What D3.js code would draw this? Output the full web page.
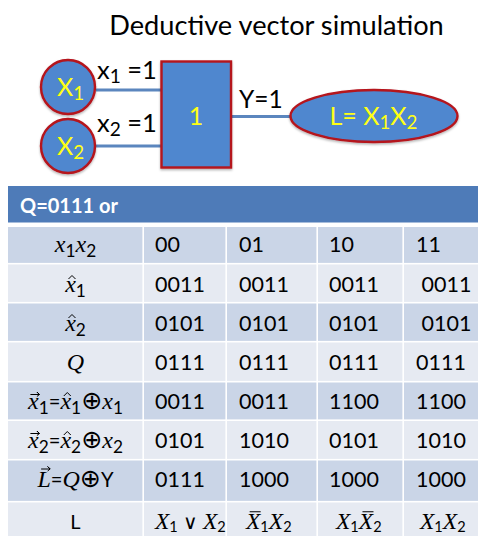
<!DOCTYPE html>
<html><head><meta charset="utf-8">
<script src="https://cdn.jsdelivr.net/npm/d3@7"></script>
<style>html,body{margin:0;padding:0;background:#fff}svg{display:block}</style></head>
<body><svg id="c" width="478" height="536"></svg>
<script>
const title = "Deductive vector simulation";
const header = "Q=0111 or";
const inputPatterns = ["00","01","10","11"];
const x1Hat = ["0011","0011","0011","0011"];
const x2Hat = ["0101","0101","0101","0101"];
const qRow = ["0111","0111","0111","0111"];
const x1Vec = ["0011","0011","1100","1100"];
const x2Vec = ["0101","1010","0101","1010"];
const lVec = ["0111","1000","1000","1000"];
const rowValues = [inputPatterns,x1Hat,x2Hat,qRow,x1Vec,x2Vec,lVec];
const m=(t,o={})=>({t,it:true,...o}), s=(t,o={})=>({t,it:true,sub:true,...o}), u=(t,o={})=>({t,...o});
const rowLabels = [
 [m("x"),s("1"),m("x"),s("2")],
 [m("x",{acc:"hat"}),s("1")],
 [m("x",{acc:"hat"}),s("2")],
 [m("Q")],
 [m("x",{acc:"vec"}),s("1"),u("=",{thin:1}),m("x",{acc:"hat"}),s("1"),u("⊕",{op:1}),m("x"),s("1")],
 [m("x",{acc:"vec"}),s("2"),u("=",{thin:1}),m("x",{acc:"hat"}),s("2"),u("⊕",{op:1}),m("x"),s("2")],
 [m("L",{acc:"vec"}),u("=",{thin:1}),m("Q"),u("⊕",{op:1}),u("Y",{thin:1})],
 [u("L")]
];
const lastRow = [
 [m("X"),s("1"),u(" ∨ ",{thin:1}),m("X"),s("2")],
 [m("X",{acc:"bar"}),s("1"),m("X"),s("2")],
 [m("X"),s("1"),m("X",{acc:"bar"}),s("2")],
 [m("X"),s("1"),m("X"),s("2")]
];

const svg=d3.select("#c");
const defs=svg.append("defs");
const f=defs.append("filter").attr("id","sh").attr("x","-10%").attr("y","-10%").attr("width","125%").attr("height","125%");
f.append("feDropShadow").attr("dx",0).attr("dy",1.5).attr("stdDeviation",1.2).attr("flood-color","#000").attr("flood-opacity",.3);

const SANS="Lato, 'Open Sans', sans-serif", SERIF="'Liberation Serif', serif";
const YEL="#FFFF14", RED="#B5121B", BLUE="#4F87CF";

function plain(x,y,t,size,fill="#000",anchor="start",weight=400,g=svg){
  return g.append("text").attr("x",x).attr("y",y).attr("font-family",SANS).attr("font-size",size)
    .attr("fill",fill).attr("text-anchor",anchor).attr("font-weight",weight).text(t);
}
function rich(x,y,runs,opt){
  const {size,anchor="middle",fill="#000",subDy=5,subScale=.72,family=SERIF,opScale=1.05}=opt;
  const el=svg.append("text").attr("x",x).attr("y",y).attr("text-anchor",anchor).attr("fill",fill)
    .attr("font-family",family).attr("font-size",size).attr("xml:space","preserve");
  let shift=0, pos=0; const accents=[];
  runs.forEach(r=>{
    const ts=el.append("tspan").text(r.t);
    if(r.it&&!r.sub) ts.attr("font-style","italic");
    if(r.sub){ts.attr("font-family",opt.subFamily||SANS).attr("font-size",size*subScale).attr("font-style","normal");}
    if(!r.it&&!r.op) ts.attr("font-family",SANS);
    if(r.thin) ts.attr("font-size",size*.84);
    if(r.op) ts.attr("font-family","'DejaVu Sans'").attr("font-size",size*opScale);
    const want=r.sub?subDy:0;
    if(want!==shift){ts.attr("dy",want-shift);shift=want;}
    if(r.acc) accents.push({i:pos,acc:r.acc,t:r.t});
    pos+=r.t.length;
  });
  accents.forEach(a=>{
    const n=el.node(), st=n.getStartPositionOfChar(a.i), en=n.getEndPositionOfChar(a.i);
    const cx=(st.x+en.x)/2+1.5, top=y-size*.5-(a.t==="L"?3.5:0);
    const stroke=p=>svg.append("path").attr("d",d3.line()(p)).attr("fill","none").attr("stroke","#000").attr("stroke-width",1);
    if(a.acc==="hat") stroke([[cx-3.5,top-1],[cx,top-4.5],[cx+3.5,top-1]]);
    if(a.acc==="vec") stroke([[cx-4.5,top-2.5],[cx+4.5,top-2.5],[cx+2,top-5],[cx+4.5,top-2.5],[cx+2,top-.5]]);
    if(a.acc==="bar") stroke([[cx-5,top-5.5],[cx+6,top-5.5]]);
  });
  return el;
}

/* Title + diagram */
plain(276.5,35,title,27.2,"#000","middle");
const wires=[[96,90,161,90],[96,146,161,146],[231,116.5,290,116.5]];
svg.selectAll(".w").data(wires).join("line").attr("x1",d=>d[0]).attr("y1",d=>d[1]).attr("x2",d=>d[2]).attr("y2",d=>d[3])
  .attr("stroke","#5B86BE").attr("stroke-width",3);
const shape=sel=>sel.attr("fill",BLUE).attr("stroke",RED).attr("stroke-width",2.4).attr("filter","url(#sh)");
svg.selectAll(".n").data([[68,87],[68,146]]).join("circle").attr("cx",d=>d[0]).attr("cy",d=>d[1]).attr("r",27).call(shape);
svg.append("rect").attr("x",161.5).attr("y",61.5).attr("width",69.5).attr("height",106).call(shape);
svg.append("ellipse").attr("cx",374).attr("cy",116).attr("rx",83.5).attr("ry",26).call(shape);

const lab={size:25.5,anchor:"start",family:SANS,subFamily:SANS,subDy:4,subScale:.75};
rich(57,96,[u("X"),s("1")],{...lab,size:25,fill:YEL});
rich(57,155,[u("X"),s("2")],{...lab,size:25,fill:YEL});
rich(97,79,[u("x"),s("1"),u(" =1")],lab);
rich(97,132,[u("x"),s("2"),u(" =1")],lab);
plain(239,108,"Y=1",24.5);
plain(196,125,"1",25,YEL,"middle");
rich(329.5,125,[u("L= X"),s("1"),u("X"),s("2")],{...lab,size:25,fill:YEL});

/* Table */
const colEdges=[8,144,227,318,404,478];
const rowEdges=[227,264.5,303.5,342.5,382.5,421,460.5,502.5,536];
const GAP=1.6;
const colIdx=d3.range(5), rowIdx=d3.range(8);
const xS=d3.scaleOrdinal(colIdx,colEdges), yS=d3.scaleOrdinal(rowIdx,rowEdges);
const xEnd=d3.scaleOrdinal(colIdx,colEdges.slice(1)), yEnd=d3.scaleOrdinal(rowIdx,rowEdges.slice(1));
svg.append("rect").attr("x",8).attr("y",186).attr("width",470).attr("height",36.5).attr("fill","#4E7BB8");
plain(20,213,header,20,"#fff","start",700);
rowIdx.forEach(r=>colIdx.forEach(c=>{
  svg.append("rect").attr("x",xS(c)).attr("y",yS(r)).attr("width",xEnd(c)-xS(c)-(c<4?GAP:0)).attr("height",yEnd(r)-yS(r)-(r<7?GAP:0))
    .attr("fill",r%2===0?"#CAD5E7":"#E6EAF2");
}));
const baselines=[252,292,331,370,409,448,487,529];
const textX=[155,239,329,416];
rowLabels.forEach((runs,r)=>rich(75.5,baselines[r],runs,{size:r===7?20:24,subDy:4.5,subScale:.72,opScale:1.05}));
rowValues.forEach((vals,r)=>vals.forEach((v,c)=>{
  plain(textX[c]+((c===3&&(r===1||r===2))?5.5:0),baselines[r],v,21.5);
}));
const lastX=[155,246,336,420];
lastRow.forEach((runs,c)=>rich(lastX[c],baselines[7],runs,{size:23.5,anchor:"start",subDy:3,subScale:.62}));
</script></body></html>
